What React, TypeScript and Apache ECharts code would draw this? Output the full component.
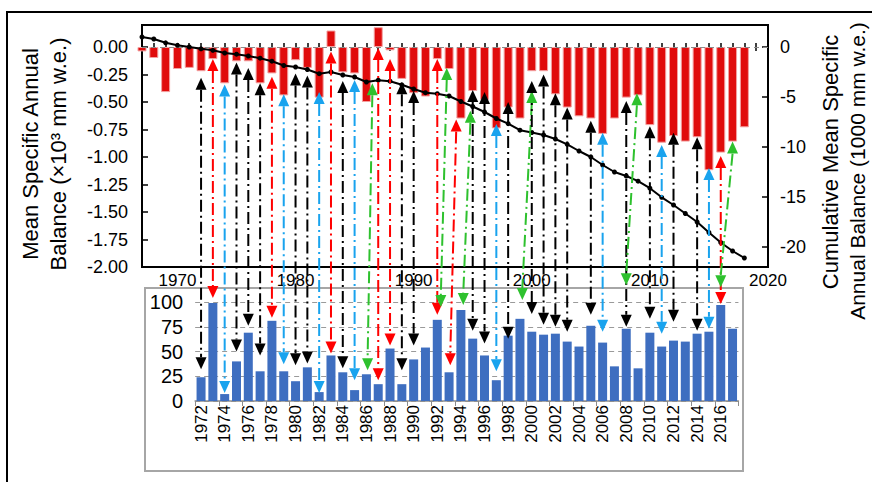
import React, { useEffect, useRef } from 'react';
import * as echarts from 'echarts';

// ---- Data ----
const topYears = [
  1967, 1968, 1969, 1970, 1971, 1972, 1973, 1974, 1975, 1976,
  1977, 1978, 1979, 1980, 1981, 1982, 1983, 1984, 1985, 1986,
  1987, 1988, 1989, 1990, 1991, 1992, 1993, 1994, 1995, 1996,
  1997, 1998, 1999, 2000, 2001, 2002, 2003, 2004, 2005, 2006,
  2007, 2008, 2009, 2010, 2011, 2012, 2013, 2014, 2015, 2016,
  2017, 2018,
];
// Mean specific annual balance (x10^3 mm w.e.)
const annualBalance = [
  -0.04, -0.10, -0.41, -0.20, -0.19, -0.22, -0.11, -0.33, -0.13, -0.13,
  -0.33, -0.24, -0.44, -0.12, -0.19, -0.46, 0.15, -0.23, -0.24, -0.50,
  0.18, -0.03, -0.29, -0.42, -0.45, -0.11, -0.20, -0.65, -0.40, -0.48,
  -0.74, -0.55, -0.65, -0.22, -0.22, -0.43, -0.55, -0.63, -0.65, -0.79,
  -0.65, -0.46, -0.44, -0.71, -0.87, -0.81, -0.86, -0.82, -1.12, -0.96,
  -0.86, -0.73,
];
// Cumulative mean specific annual balance (1000 mm w.e.)
const cumulativeBalance = [
  1.0, 0.8, 0.42, 0.17, 0.0, -0.18, -0.33, -0.6, -0.72, -0.9,
  -1.12, -1.42, -1.85, -2.0, -2.25, -2.67, -2.5, -2.8, -3.0, -3.5,
  -3.32, -3.42, -3.78, -4.2, -4.57, -4.67, -4.9, -5.45, -5.95, -6.5,
  -7.15, -7.66, -8.32, -8.55, -8.8, -9.2, -9.73, -10.4, -11.0, -11.8,
  -12.5, -12.9, -13.42, -14.12, -15.03, -15.8, -16.65, -17.5, -18.55, -19.55,
  -20.4, -21.1,
];
const bottomYears = [
  '1972', '1973', '1974', '1975', '1976', '1977', '1978', '1979', '1980', '1981',
  '1982', '1983', '1984', '1985', '1986', '1987', '1988', '1989', '1990', '1991',
  '1992', '1993', '1994', '1995', '1996', '1997', '1998', '1999', '2000', '2001',
  '2002', '2003', '2004', '2005', '2006', '2007', '2008', '2009', '2010', '2011',
  '2012', '2013', '2014', '2015', '2016', '2017',
];
const bottomValues = [
  24, 99, 7, 40, 69, 30, 81, 30, 20, 34,
  9, 46, 29, 11, 27, 17, 53, 17, 42, 54,
  82, 29, 92, 63, 46, 21, 66, 83, 70, 67,
  68, 60, 55, 76, 59, 35, 73, 33, 69, 55,
  61, 60, 68, 70, 97, 73,
];
const leftTicks = [0, -0.25, -0.5, -0.75, -1, -1.25, -1.5, -1.75, -2];
const rightTicks = [0, -5, -10, -15, -20];
const decadeLabels = [1970, 1980, 1990, 2000, 2010, 2020];
const yearTicks = [
  1967, 1968, 1969, 1970, 1971, 1972, 1973, 1974, 1975, 1976,
  1977, 1978, 1979, 1980, 1981, 1982, 1983, 1984, 1985, 1986,
  1987, 1988, 1989, 1990, 1991, 1992, 1993, 1994, 1995, 1996,
  1997, 1998, 1999, 2000, 2001, 2002, 2003, 2004, 2005, 2006,
  2007, 2008, 2009, 2010, 2011, 2012, 2013, 2014, 2015, 2016,
  2017, 2018, 2019, 2020,
];
const rightTitleLines = ['Cumulative Mean Specific', 'Annual Balance (1000 mm w.e.)'];
// Linking arrows: [kind, top year, top tip value, bottom year, bottom tip value]
const arrows: [string, number, number, number, number][] = [
  ['k', 1972, -0.28, 1972, 32],
  ['r', 1973, -0.11, 1973, 104],
  ['b', 1974, -0.34, 1974, 8],
  ['k', 1975, -0.14, 1975, 50],
  ['k', 1976, -0.19, 1976, 76],
  ['k', 1977, -0.33, 1977, 46],
  ['r', 1978, -0.27, 1978, 84],
  ['b', 1979, -0.43, 1979, 37],
  ['k', 1980, -0.24, 1980, 36],
  ['k', 1981, -0.26, 1981, 38],
  ['b', 1982, -0.41, 1982, 8],
  ['r', 1983, -0.04, 1983, 48],
  ['k', 1984, -0.31, 1984, 33],
  ['b', 1985, -0.30, 1985, 21],
  ['g', 1986.5, -0.33, 1986.1, 31],
  ['r', 1987, -0.01, 1987, 21],
  ['r', 1988, -0.11, 1988, 56],
  ['k', 1989, -0.32, 1989, 31],
  ['k', 1990, -0.40, 1990, 56],
  ['r', 1992, -0.11, 1992, 87],
  ['g', 1992.8, -0.19, 1992.3, 95],
  ['r', 1993.6, -0.66, 1993.1, 36],
  ['g', 1994.8, -0.58, 1994.2, 97],
  ['k', 1995, -0.39, 1995, 71],
  ['k', 1996, -0.41, 1996, 58],
  ['b', 1997, -0.70, 1997, 30],
  ['k', 1998, -0.50, 1998, 63],
  ['g', 2000, -0.40, 1999.2, 102],
  ['k', 2000, -0.31, 2000, 88],
  ['k', 2001, -0.25, 2001, 77],
  ['k', 2002, -0.42, 2002, 75],
  ['k', 2003, -0.55, 2003, 70],
  ['k', 2005, -0.67, 2005, 87],
  ['b', 2006, -0.78, 2006, 70],
  ['k', 2008, -0.49, 2008, 75],
  ['g', 2008.9, -0.42, 2008, 117],
  ['k', 2010, -0.72, 2010, 83],
  ['b', 2011, -0.89, 2011, 68],
  ['k', 2012, -0.78, 2012, 80],
  ['k', 2014, -0.82, 2014, 71],
  ['b', 2015, -1.10, 2015, 73],
  ['r', 2016, -0.99, 2016, 98],
  ['g', 2017, -0.86, 2016, 115],
];

const arrowColor: Record<string, string> = {
  k: '#000000',
  r: '#ff0000',
  b: '#19a3ee',
  g: '#2ec12e',
};

const FONT = 'Liberation Sans';

export default function App() {
  const ref = useRef<HTMLDivElement>(null);

  useEffect(() => {
    if (!ref.current) return;
    const chart = echarts.init(ref.current, undefined, { renderer: 'svg' });

    const option: any = {
      animation: false,
      backgroundColor: '#ffffff',
      textStyle: { fontFamily: FONT, color: '#000' },
      grid: [
        {
          left: 142, top: 25, width: 626, height: 242, show: true, borderColor: '#000', borderWidth: 2,
          containLabel: false, outerBoundsMode: 'none',
        },
        { left: 195.15, top: 302, width: 543.3, height: 99, containLabel: false, outerBoundsMode: 'none' },
      ],
      xAxis: [
        {
          type: 'value', gridIndex: 0, min: 1967, max: 2020, position: 'bottom',
          axisLine: { show: false }, splitLine: { show: false },
          axisTick: { show: true, inside: true, length: 4, customValues: yearTicks, lineStyle: { color: '#000', width: 1.5 } },
          axisLabel: {
            customValues: decadeLabels, formatter: (v: number) => String(v),
            fontSize: 17, color: '#000', margin: 5, fontFamily: FONT,
          },
        },
        {
          type: 'value', gridIndex: 0, min: 1967, max: 2020, position: 'top',
          axisLine: { show: false }, splitLine: { show: false },
          axisTick: { show: true, inside: true, length: 4, customValues: yearTicks, lineStyle: { color: '#000', width: 1.5 } },
          axisLabel: { show: false },
        },
        {
          type: 'category', gridIndex: 1, data: bottomYears,
          axisLine: { lineStyle: { color: '#8c8c8c', width: 1.5 } },
          axisTick: { show: true, length: 5, lineStyle: { color: '#8c8c8c' } },
          axisLabel: { rotate: 90, interval: 1, fontSize: 17, color: '#000', margin: 4, fontFamily: FONT },
        },
      ],
      yAxis: [
        {
          type: 'value', gridIndex: 0, min: -2, max: 0.2, position: 'left',
          axisLine: { show: false }, splitLine: { show: false },
          axisTick: { show: true, inside: true, length: 6, customValues: leftTicks, lineStyle: { color: '#000', width: 1.5 } },
          axisLabel: { customValues: leftTicks, formatter: (v: number) => v.toFixed(2), fontSize: 18, color: '#000', margin: 14, fontFamily: FONT },
          name: 'Mean Specific Annual\nBalance (×10³ mm w.e.)',
          nameLocation: 'middle', nameRotate: 90, nameGap: 70,
          nameTextStyle: { fontSize: 22, lineHeight: 28, color: '#000', fontFamily: FONT, padding: [0, 16, 0, 0] },
        },
        {
          type: 'value', gridIndex: 0, min: -22, max: 2.2, position: 'right',
          axisLine: { show: false }, splitLine: { show: false },
          axisTick: { show: true, inside: true, length: 6, customValues: rightTicks, lineStyle: { color: '#000', width: 1.5 } },
          axisLabel: { customValues: rightTicks, formatter: (v: number) => String(v), fontSize: 18, color: '#000', margin: 12, fontFamily: FONT },
        },
        {
          type: 'value', gridIndex: 1, min: 0, max: 100, interval: 25,
          axisLine: { show: false }, axisTick: { show: false },
          splitLine: { show: true, lineStyle: { color: '#9a9a9a', type: [5, 4], width: 1 } },
          axisLabel: { fontSize: 20, color: '#000', margin: 12, fontFamily: FONT },
        },
      ],
      series: [
        {
          type: 'bar', xAxisIndex: 0, yAxisIndex: 0,
          data: topYears.map((y, i) => [y, annualBalance[i]]),
          barWidth: 9,
          itemStyle: { color: '#e00c0c', borderColor: '#f3a0a0', borderWidth: 1 },
          markLine: {
            silent: true, symbol: 'none', label: { show: false },
            lineStyle: { type: [5, 4], color: '#8a8a8a', width: 1 },
            data: [{ yAxis: 0 }],
          },
          z: 2,
        },
        {
          type: 'line', xAxisIndex: 0, yAxisIndex: 1,
          data: topYears.map((y, i) => [y, cumulativeBalance[i]]),
          symbol: 'circle', symbolSize: 5,
          lineStyle: { color: '#000', width: 2 },
          itemStyle: { color: '#000' },
          z: 5,
        },
        {
          type: 'bar', xAxisIndex: 2, yAxisIndex: 2,
          data: bottomValues,
          barWidth: 9,
          itemStyle: { color: '#3e6ec0' },
        },
      ],
    };

    chart.setOption(option);

    const px = (finder: any, v: number) => chart.convertToPixel(finder, v) as unknown as number;
    const head = 12;
    const half = 5.5;
    const elems: any[] = [
      {
        type: 'rect', silent: true, z: 0,
        shape: { x: 7, y: 12, width: 1000, height: 1000 },
        style: { fill: 'none', stroke: '#000', lineWidth: 2 },
      },
      {
        type: 'rect', silent: true, z: 0,
        shape: { x: 145, y: 288, width: 598, height: 183 },
        style: { fill: 'none', stroke: '#a6a6a6', lineWidth: 2 },
      },
      {
        type: 'text', silent: true, z: 10, x: 830, y: 162, rotation: Math.PI / 2,
        style: { text: rightTitleLines[0], fontSize: 22, fontFamily: FONT, fill: '#000', align: 'center', verticalAlign: 'middle' },
      },
      {
        type: 'text', silent: true, z: 10, x: 857, y: 171, rotation: Math.PI / 2,
        style: { text: rightTitleLines[1], fontSize: 21, fontFamily: FONT, fill: '#000', align: 'center', verticalAlign: 'middle' },
      },
    ];
    arrows.forEach(([kind, ty, tv, by, bv]) => {
      const c = arrowColor[kind];
      const x1 = px({ xAxisIndex: 0 }, ty);
      const y1 = px({ yAxisIndex: 0 }, tv);
      const x2 = px({ xAxisIndex: 0 }, by);
      const y2 = px({ yAxisIndex: 2 }, bv);
      elems.push({
        type: 'line', silent: true, z: 99,
        shape: { x1, y1: y1 + head, x2, y2: y2 - head },
        style: { stroke: c, lineWidth: 2, lineDash: [12, 4, 2, 4] },
      });
      elems.push({
        type: 'polygon', silent: true, z: 100,
        shape: { points: [[x1, y1], [x1 - half, y1 + head], [x1 + half, y1 + head]] },
        style: { fill: c },
      });
      elems.push({
        type: 'polygon', silent: true, z: 100,
        shape: { points: [[x2, y2], [x2 - half, y2 - head], [x2 + half, y2 - head]] },
        style: { fill: c },
      });
    });
    chart.setOption({ graphic: elems });

    return () => {
      chart.dispose();
    };
  }, []);

  return (
    <div
      ref={ref}
      style={{ position: 'fixed', left: 0, top: 0, width: '872px', height: '482px' }}
    />
  );
}
